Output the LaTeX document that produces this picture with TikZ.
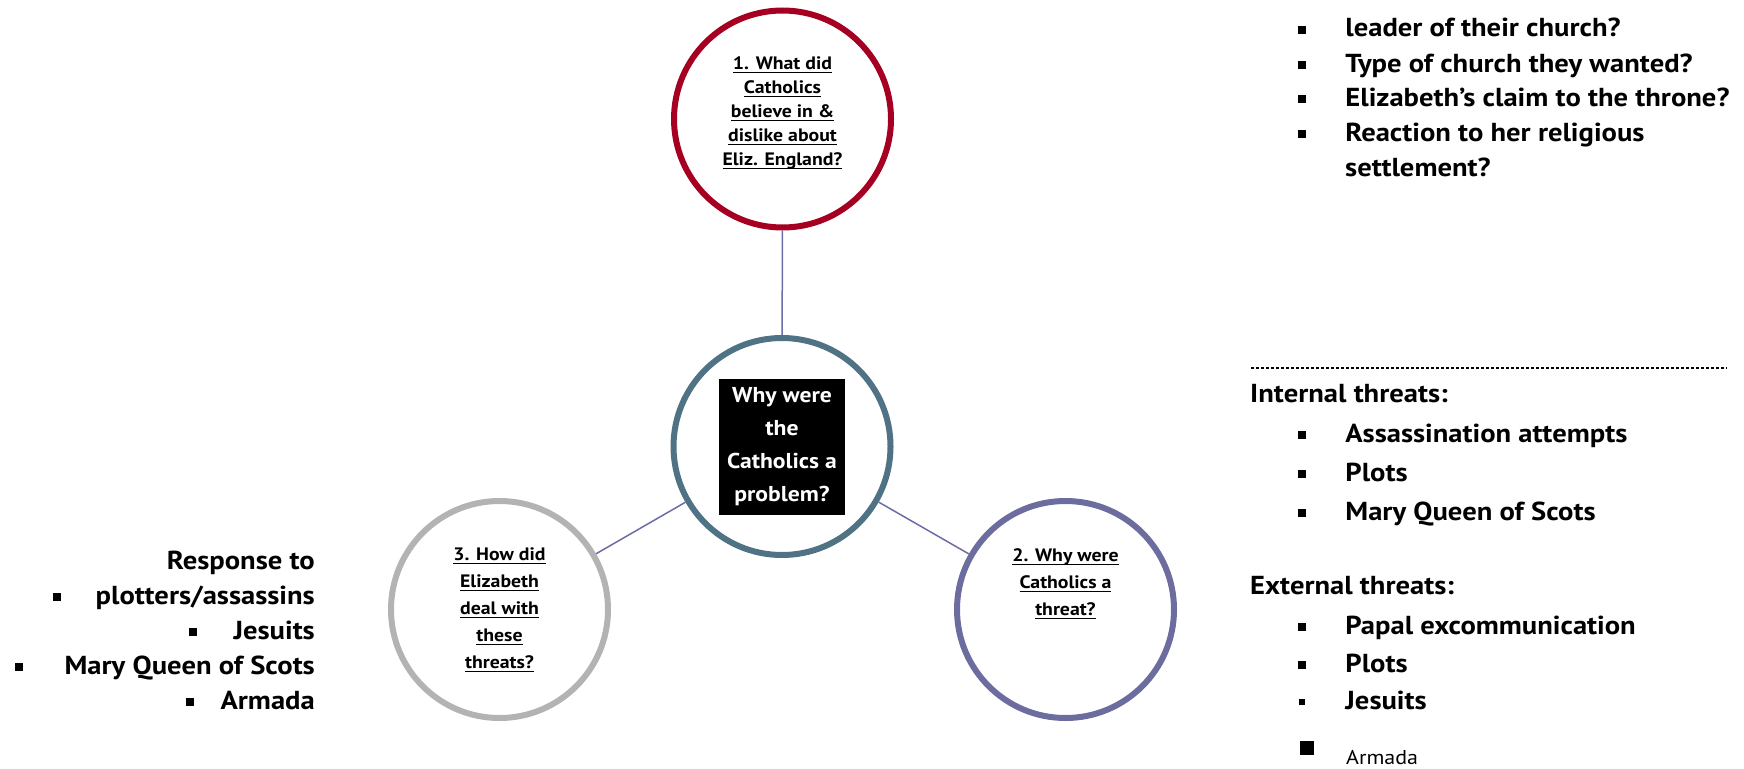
\documentclass[tikz,border=0pt]{standalone}
\usepackage{fontspec}
\setmainfont{PT Sans}[FakeStretch=1.1]
\usetikzlibrary{positioning}

\definecolor{qred}{HTML}{A50021}
\definecolor{qslate}{HTML}{4F7284}
\definecolor{qgray}{HTML}{B3B3B3}
\definecolor{qpurple}{HTML}{6C6C9F}
\definecolor{qlink}{HTML}{6C6CA6}

% one underlined line of a question
\newcommand\uln[1]{\leavevmode\setbox0\hbox{#1}\rlap{\rule[-4pt]{\wd0}{1.8pt}}\box0}

\begin{document}
\begin{tikzpicture}[x=1pt, y=-1pt,
                qcircle/.style={circle, draw, line width=6pt, minimum size=217pt, inner sep=0pt},
                qtext/.style={align=center, inner sep=0pt},
                listtext/.style={inner sep=0pt, anchor=west, text height=19pt, text depth=5pt, font=\bfseries\fontsize{26}{34}\selectfont},
                sqbullet/.style={fill=black, inner sep=0pt, minimum size=8pt},
                link/.style={draw=qlink, line width=1.5pt},
            ]
            \useasboundingbox (0,0) rectangle (1744,768);

            % Circles
            \node[qcircle, draw=qred]       (belief)    at (782.5,119)    {};
            \node[qcircle, draw=qslate]     (core)      at (782,446.5)    {};
            \node[qcircle, draw=qgray]      (response)  at (499.5,609.5)  {};
            \node[qcircle, draw=qpurple]    (threat)    at (1065.5,609.5) {};

            % Lines
            \draw[link] (core) -- (belief);
            \draw[link] (core) -- (response);
            \draw[link] (core) -- (threat);

            % Questions
            \node[qtext, font=\bfseries\fontsize{18}{24}\selectfont] (belief_txt) at (782.5,113)
                {\uln{1. What did}\\\uln{Catholics}\\\uln{believe in \&}\\\uln{dislike about}\\\uln{Eliz. England?}};
            \node[qtext, font=\bfseries\fontsize{18}{27}\selectfont] (response_txt) at (499.5,610)
                {\uln{3. How did}\\\uln{Elizabeth}\\\uln{deal with}\\\uln{these}\\\uln{threats?}};
            \node[qtext, font=\bfseries\fontsize{18}{27}\selectfont] (threat_txt) at (1065.5,584)
                {\uln{2. Why were}\\\uln{Catholics a}\\\uln{threat?}};
            \node[fill=black, text=white, minimum width=126pt, minimum height=136pt, inner sep=2pt, align=center,
                  font=\bfseries\fontsize{21.5}{33}\selectfont] (core_txt) at (core) {Why were\\the\\Catholics a\\problem?};

            % Top right list
            \node[sqbullet]                          (church_b1) at (1302,30)  {};
            \node[listtext, right=39pt of church_b1] (church_t1) {leader of their church?};
            \node[sqbullet]                          (church_b2) at (1302,65)  {};
            \node[listtext, right=39pt of church_b2] (church_t2) {Type of church they wanted?};
            \node[sqbullet]                          (church_b3) at (1302,99)  {};
            \node[listtext, right=39pt of church_b3] (church_t3) {Elizabeth’s claim to the throne?};
            \node[sqbullet]                          (church_b4) at (1302,134) {};
            \node[listtext, right=39pt of church_b4] (church_t4) {Reaction to her religious};
            \node[listtext]                          (church_t5) at (1345,169) {settlement?};

            % Separator
            \coordinate (sep_l) at (1251,368);
            \coordinate (sep_r) at (1727,368);
            \draw[dash pattern=on 2.5pt off 2.5pt, line width=2.5pt] (sep_l) -- (sep_r);

            % Threat lists
            \node[listtext] (internal) at (1250,395) {Internal threats:};
            \node[sqbullet]                           (internal_b1) at (1302,435) {};
            \node[listtext, right=39pt of internal_b1] (internal_t1) {Assassination attempts};
            \node[sqbullet]                           (internal_b2) at (1302,474) {};
            \node[listtext, right=39pt of internal_b2] (internal_t2) {Plots};
            \node[sqbullet]                           (internal_b3) at (1302,513) {};
            \node[listtext, right=39pt of internal_b3] (internal_t3) {Mary Queen of Scots};

            \node[listtext] (external) at (1250,587) {External threats:};
            \node[sqbullet]                           (external_b1) at (1302,627) {};
            \node[listtext, right=39pt of external_b1] (external_t1) {Papal excommunication};
            \node[sqbullet]                           (external_b2) at (1302,665) {};
            \node[listtext, right=39pt of external_b2] (external_t2) {Plots};
            \node[sqbullet, minimum size=6.5pt]       (external_b3) at (1302,702) {};
            \node[listtext, right=39.75pt of external_b3] (external_t3) {Jesuits};
            \node[sqbullet, minimum size=14pt]        (external_b4) at (1307,748) {};
            \node[inner sep=0pt, anchor=west, font=\fontsize{20}{22}\selectfont] (external_t4) at (1346,757) {Armada};

            % Left list
            \node[listtext, anchor=east] (resp_head) at (315,562) {Response to};
            \node[listtext, anchor=east] (resp_t1)   at (315,597) {plotters/assassins};
            \node[sqbullet, left=34pt of resp_t1]   (resp_b1) {};
            \node[listtext, anchor=east] (resp_t2)   at (315,632) {Jesuits};
            \node[sqbullet, left=36pt of resp_t2]   (resp_b2) {};
            \node[listtext, anchor=east] (resp_t3)   at (315,667) {Mary Queen of Scots};
            \node[sqbullet, left=41pt of resp_t3]   (resp_b3) {};
            \node[listtext, anchor=east] (resp_t4)   at (315,702) {Armada};
            \node[sqbullet, left=26pt of resp_t4]   (resp_b4) {};
        \end{tikzpicture}
\end{document}
